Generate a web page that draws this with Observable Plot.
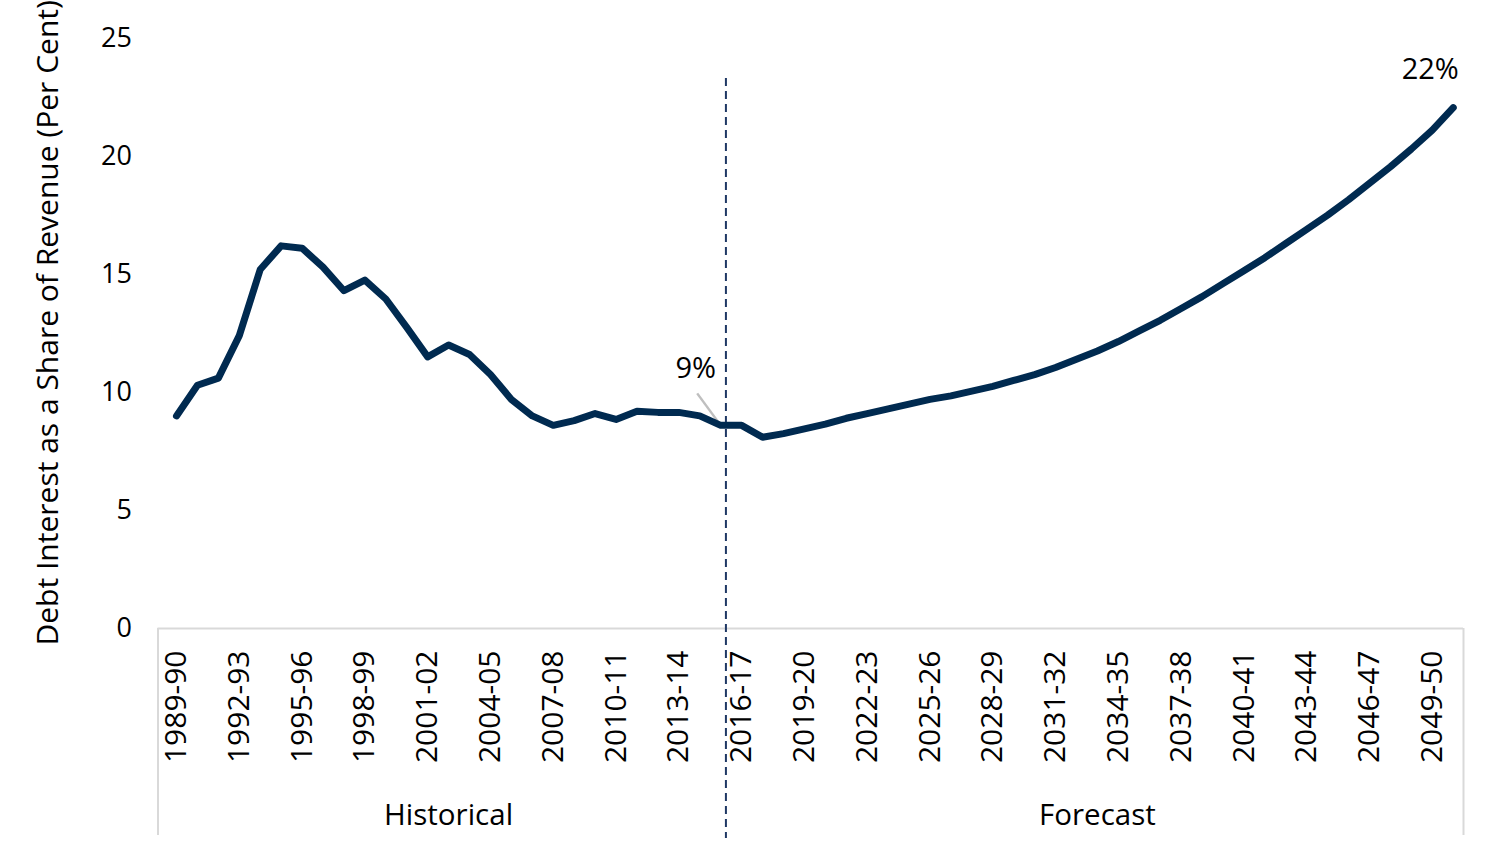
<!DOCTYPE html>
<html>
<head>
<meta charset="utf-8">
<script src="https://cdn.jsdelivr.net/npm/d3@7"></script>
<script src="https://cdn.jsdelivr.net/npm/@observablehq/plot@0.6"></script>
<style>
  html, body { margin: 0; padding: 0; background: #fff; }
  #chart { width: 1500px; height: 862px; overflow: hidden; }
</style>
</head>
<body>
<div id="chart"></div>
<script>
// ---- Data ----
const categories = [
  "1989-90","1990-91","1991-92","1992-93","1993-94","1994-95","1995-96","1996-97","1997-98","1998-99",
  "1999-00","2000-01","2001-02","2002-03","2003-04","2004-05","2005-06","2006-07","2007-08","2008-09",
  "2009-10","2010-11","2011-12","2012-13","2013-14","2014-15","2015-16",
  "2016-17","2017-18","2018-19","2019-20","2020-21","2021-22","2022-23","2023-24","2024-25","2025-26",
  "2026-27","2027-28","2028-29","2029-30","2030-31","2031-32","2032-33","2033-34","2034-35","2035-36",
  "2036-37","2037-38","2038-39","2039-40","2040-41","2041-42","2042-43","2043-44","2044-45","2045-46",
  "2046-47","2047-48","2048-49","2049-50","2050-51"
];
const historicalValues = [
  9.0, 10.3, 10.6, 12.4, 15.2, 16.2, 16.1, 15.3, 14.3, 14.75,
  13.95, 12.75, 11.5, 12.0, 11.6, 10.75, 9.7, 9.0, 8.6, 8.8,
  9.1, 8.85, 9.2, 9.15, 9.15, 9.0, 8.6
];
const forecastValues = [
  8.6, 8.1, 8.25, 8.45, 8.65, 8.9, 9.1, 9.3, 9.5, 9.7,
  9.85, 10.05, 10.25, 10.5, 10.75, 11.05, 11.4, 11.75, 12.15, 12.6,
  13.05, 13.55, 14.05, 14.6, 15.15, 15.7, 16.3, 16.9, 17.5, 18.15,
  18.85, 19.55, 20.3, 21.1, 22.05
];
const tickLabels = [
  "1989-90","1992-93","1995-96","1998-99","2001-02","2004-05","2007-08","2010-11","2013-14",
  "2016-17","2019-20","2022-23","2025-26","2028-29","2031-32","2034-35","2037-38","2040-41",
  "2043-44","2046-47","2049-50"
];
const yTicks = [0, 5, 10, 15, 20, 25];
const groupNames = ["Historical", "Forecast"];
const annotationCategories = ["2015-16", "2050-51"];
const annotationTexts = ["9%", "22%"];
const yTitle = "Debt Interest as a Share of Revenue (Per Cent)";

// ---- Build table ----
const allValues = historicalValues.concat(forecastValues);
const data = categories.map((c, i) => ({ i, category: c, value: allValues[i] }));
const groups = [
  { name: groupNames[0], first: 0, last: historicalValues.length - 1 },
  { name: groupNames[1], first: historicalValues.length, last: categories.length - 1 }
].map(g => ({ ...g, center: (g.first + g.last) / 2 }));
const tickIdx = tickLabels.map(l => categories.indexOf(l));
const annots = annotationCategories.map((c, k) => {
  const d = data[categories.indexOf(c)];
  return { ...d, text: annotationTexts[k] };
});

// ---- Layout constants (styling) ----
const W = 1500, H = 862;
const mL = 157.5, mR = 37, mT = 37.5, mB = 234;
const xDomain = [-0.884, 61.49];
const pxPerIdx = (W - mR - mL) / (xDomain[1] - xDomain[0]);
const pxPerUnit = (H - mB - mT) / 25;
const dividerIdx = categories.indexOf("2015-16") + 0.25;
const frameBottom = -207 / pxPerUnit;   // ~207px below the axis
const dividerTop = 550 / pxPerUnit;     // top of the dashed line
const dividerBottom = -210 / pxPerUnit;

const navy = "#002A50";
const font = "'Open Sans', 'Noto Sans', sans-serif";

const chart = Plot.plot({
  width: W,
  height: H,
  marginLeft: mL,
  marginRight: mR,
  marginTop: mT,
  marginBottom: mB,
  style: { fontFamily: font, fontSize: "28px", color: "#000", background: "#fff", overflow: "visible" },
  x: { type: "linear", domain: xDomain, axis: null },
  y: { domain: [0, 25], axis: null },
  marks: [
    // frame of the category axis
    Plot.ruleY([0], { stroke: "#d9d9d9", strokeWidth: 2 }),
    Plot.ruleX(xDomain, { y1: 0, y2: frameBottom, stroke: "#d9d9d9", strokeWidth: 2 }),
    // y axis
    Plot.axisY(yTicks, { tickSize: 0, tickPadding: 26, fontSize: 27, label: null, fill: "#000" }),
    // x axis
    Plot.axisX(tickIdx, {
      tickSize: 0, tickPadding: 22, tickRotate: -90, fontSize: 30,
      tickFormat: i => categories[i], label: null, fill: "#000"
    }),
    // y title
    Plot.text([yTitle], {
      frameAnchor: "bottom-left", rotate: -90, textAnchor: "start",
      dx: -100, dy: 17, fontSize: 30, fill: "#000"
    }),
    // group labels
    Plot.text(groups, { x: "center", text: "name", frameAnchor: "bottom", dy: 196, fontSize: 29.5, fill: "#000" }),
    // leader line for first annotation
    Plot.link([annots[0]], {
      x1: d => d.i, y1: d => d.value,
      x2: d => d.i - 23.5 / pxPerIdx, y2: d => d.value + 32 / pxPerUnit,
      stroke: "#bfbfbf", strokeWidth: 2.5
    }),
    // divider
    Plot.ruleX([dividerIdx], { y1: dividerTop, y2: dividerBottom, stroke: "#1F3864", strokeWidth: 2, strokeDasharray: "8,5" }),
    // main line
    Plot.line(data, {
      x: "i", y: "value", stroke: navy, strokeWidth: 7,
      strokeLinecap: "round", strokeLinejoin: "round"
    }),
    // annotations
    Plot.text([annots[0]], { x: "i", y: "value", text: "text", dx: -25, dy: -57, fontSize: 29, fill: "#000" }),
    Plot.text([annots[1]], { x: "i", y: "value", text: "text", dx: -23, dy: -38, fontSize: 29, fill: "#000" })
  ]
});
document.getElementById("chart").appendChild(chart);
</script>
</body>
</html>
